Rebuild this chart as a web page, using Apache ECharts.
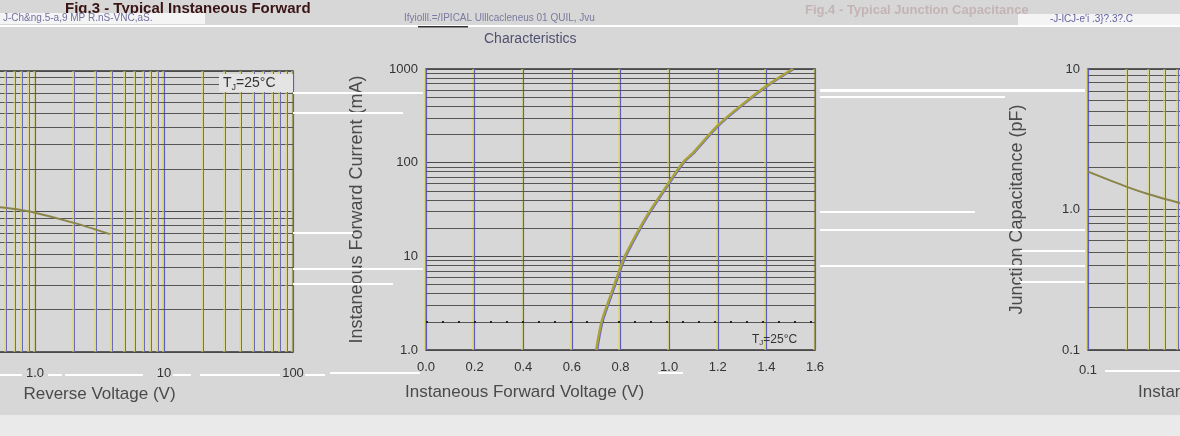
<!DOCTYPE html>
<html>
<head>
<meta charset="utf-8">
<script src="https://cdn.jsdelivr.net/npm/echarts@6/dist/echarts.min.js"></script>
<style>html,body{margin:0;padding:0;background:#d7d7d7}#c{width:1180px;height:436px}</style>
</head>
<body>
<div id="c"></div>
<script>
// ---- data ----
const revV = [0.5, 0.7, 1.0, 2.0, 3.8];
const revI = [0.108, 0.104, 0.098, 0.083, 0.069];
const fwdV = [0.70, 0.722, 0.76, 0.80, 0.817, 0.90, 1.00, 1.056, 1.10, 1.20, 1.30, 1.40, 1.508];
const fwdI = [1.0, 2.0, 3.9, 7.7, 10, 25, 62, 100, 129, 250, 417, 660, 1000];
const capV = [0.1, 0.2, 0.3, 0.5, 0.6];
const capC = [1.86, 1.45, 1.28, 1.12, 1.07];
const fwdXTicks = ['0.0','0.2','0.4','0.6','0.8','1.0','1.2','1.4','1.6'];
const logLabels = {0.1:'0.1', 1:'1.0', 10:'10', 100:'100', 1000:'1000', 0.01:'0.01'};

function minors(lo, hi){ const out=[]; for(let d=lo; d<hi; d*=10){ for(let m=2;m<=9;m++) out.push(+(m*d).toPrecision(3)); } return out; }
const pair = (xs, ys) => xs.map((x,i)=>[x, ys[i]]);

const vColor = '#5c5cc8';
const vShadow = '#e2dc48';
const hColor = '#4a4a4a';
const curveColor = '#aaa236';
const labelStyle = {color:'#333', fontSize:13, fontFamily:'Liberation Sans, Arial'};
const nameStyle = {color:'#4a4a4a', fontSize:18, fontFamily:'Liberation Sans, Arial'};

function vSplit(){ return {show:true, lineStyle:{color:vColor, width:1.2, shadowColor:vShadow, shadowOffsetX:-1.5, shadowBlur:0}}; }
function hSplit(){ return {show:true, lineStyle:{color:hColor, width:1.2}}; }
function minorLines(axisIdx, key, vals, color){
  return {type:'line', xAxisIndex:axisIdx, yAxisIndex:axisIdx, data:[], z:1, silent:true,
    markLine:{silent:true, symbol:['none','none'], animation:false, label:{show:false},
      lineStyle:key==='xAxis'
        ? {type:'solid', color:color, width:1, shadowColor:vShadow, shadowOffsetX:-1.5, shadowBlur:0}
        : {type:'solid', color:color, width:1},
      emphasis:{disabled:true},
      data: vals.map(v=>({[key]: v}))}};
}
const gridBase = {show:true, borderColor:'#333', borderWidth:1.5, containLabel:false, outerBoundsMode:'none'};

const chart = echarts.init(document.getElementById('c'), null, {renderer:'canvas'});
const option = {
  backgroundColor:'#d7d7d7',
  animation:false,
  grid:[
    Object.assign({left:-94, top:71, width:387, height:281}, gridBase),
    Object.assign({left:426, top:69, width:389, height:281}, gridBase),
    Object.assign({left:1088, top:69, width:387, height:281}, gridBase)
  ],
  xAxis:[
    {gridIndex:0, type:'log', min:0.1, max:100, logBase:10,
     axisLine:{show:false}, axisTick:{show:false}, splitLine:vSplit(),
     axisLabel:Object.assign({margin:15, formatter:v=>logLabels[v]||''}, labelStyle),
     name:'Reverse Voltage (V)', nameLocation:'middle', nameGap:34, nameTextStyle:Object.assign({}, nameStyle, {fontSize:17})},
    {gridIndex:1, type:'value', min:0, max:1.6, interval:0.2,
     axisLine:{show:false}, axisTick:{show:false}, splitLine:vSplit(),
     axisLabel:Object.assign({margin:11, formatter:(v)=>fwdXTicks[Math.round(v/0.2)]}, labelStyle)},
    {gridIndex:2, type:'log', min:0.1, max:100, logBase:10,
     axisLine:{show:false}, axisTick:{show:false}, splitLine:vSplit(),
     axisLabel:Object.assign({margin:14, formatter:v=>logLabels[v]||''}, labelStyle)}
  ],
  yAxis:[
    {gridIndex:0, type:'log', min:0.01, max:1, logBase:10,
     axisLine:{show:false}, axisTick:{show:false}, splitLine:hSplit(),
     axisLabel:Object.assign({formatter:v=>logLabels[v]||''}, labelStyle)},
    {gridIndex:1, type:'log', min:1, max:1000, logBase:10,
     axisLine:{show:false}, axisTick:{show:false}, splitLine:hSplit(),
     axisLabel:Object.assign({margin:8, formatter:v=>logLabels[v]||''}, labelStyle),
     name:'Instaneous Forward Current (mA)', nameLocation:'middle', nameGap:60, nameTextStyle:nameStyle},
    {gridIndex:2, type:'log', min:0.1, max:10, logBase:10,
     axisLine:{show:false}, axisTick:{show:false}, splitLine:hSplit(),
     axisLabel:Object.assign({margin:8, formatter:v=>logLabels[v]||''}, labelStyle),
     name:'Junction Capacitance (pF)', nameLocation:'middle', nameGap:62, nameTextStyle:nameStyle}
  ],
  series:[
    minorLines(0,'yAxis', minors(0.01,1), '#555'),
    minorLines(0,'xAxis', minors(0.1,100), '#6a6ab8'),
    minorLines(1,'yAxis', minors(1,1000), '#555'),
    minorLines(2,'yAxis', minors(0.1,10), '#555'),
    minorLines(2,'xAxis', minors(0.1,100), '#6a6ab8'),
    {type:'line', xAxisIndex:1, yAxisIndex:1, data:[], z:1, silent:true,
     markLine:{silent:true, symbol:['none','none'], label:{show:false}, lineStyle:{type:[2,14], color:'#222', width:2}, data:[{yAxis:2}]}},
    {type:'line', xAxisIndex:0, yAxisIndex:0, data:pair(revV, revI), smooth:0.3, showSymbol:false, z:5,
     lineStyle:{color:'#8a8448', width:2}},
    {type:'line', xAxisIndex:1, yAxisIndex:1, data:pair(fwdV, fwdI), smooth:0.3, showSymbol:false, z:5,
     lineStyle:{color:curveColor, width:2.4, shadowColor:'#6a6ad0', shadowOffsetX:1, shadowBlur:0}},
    {type:'line', xAxisIndex:2, yAxisIndex:2, data:pair(capV, capC), smooth:0.3, showSymbol:false, z:5,
     lineStyle:{color:'#8a8448', width:2}}
  ],
  graphic:[
    {type:'rect', shape:{x:0, y:415, width:1180, height:21}, style:{fill:'#eaeaea'}, z:0},
    {type:'rect', shape:{x:0, y:25, width:1180, height:2}, style:{fill:'#ffffff'}, z:100},
    {type:'text', x:65, y:1, style:{text:'Fig.3 - Typical Instaneous Forward', fontSize:15, fontWeight:'bold', fill:'#3a1414', fontFamily:'Liberation Sans, Arial'}, z:100},
    {type:'rect', shape:{x:0, y:13, width:205, height:11}, style:{fill:'#f4f4f4'}, z:100},
    {type:'text', x:3, y:13, style:{text:'J-Ch&ng.5-a,9 MP R.nS-VNC,aS.', fontSize:10, fill:'#7070a0', fontFamily:'Liberation Sans, Arial'}, z:101},
    {type:'text', x:404, y:13, style:{text:'Ifyiolll.=/IPICAL Ulllcacleneus 01 QUIL, Jvu', fontSize:10, fill:'#7a7aa0', fontFamily:'Liberation Sans, Arial'}, z:101},
    {type:'rect', shape:{x:418, y:26, width:50, height:1.5}, style:{fill:'#333'}, z:101},
    {type:'text', x:484, y:32, style:{text:'Characteristics', fontSize:14, fill:'#505070', fontFamily:'Liberation Sans, Arial'}, z:100},
    {type:'text', x:805, y:4, style:{text:'Fig.4 - Typical Junction Capacitance', fontSize:13, fontWeight:'bold', fill:'#c4b4b4', fontFamily:'Liberation Sans, Arial'}, z:100},
    {type:'rect', shape:{x:1018, y:14, width:162, height:11}, style:{fill:'#f4f4f4'}, z:100},
    {type:'text', x:1050, y:14, style:{text:'-J-lCJ-e\'i .3}?.3?.C', fontSize:10, fill:'#6060a0', fontFamily:'Liberation Sans, Arial'}, z:101},
    {type:'rect', shape:{x:219, y:74, width:74, height:18}, style:{fill:'#e4e4e4'}, z:50},
    {type:'text', x:223, y:75, style:{text:'T{s|J}=25°C', fontSize:14, fill:'#333', fontFamily:'Liberation Sans, Arial', rich:{s:{fontSize:9, padding:[8,0,0,0], fill:'#333'}}}, z:51},
    {type:'text', x:752, y:333, style:{text:'T{s|J}=25°C', fontSize:12, fill:'#333', fontFamily:'Liberation Sans, Arial', rich:{s:{fontSize:8, padding:[6,0,0,0], fill:'#333'}}}, z:51},
    {type:'text', x:405, y:384, style:{text:'Instaneous Forward Voltage (V)', fontSize:17, fill:'#4a4a4a', fontFamily:'Liberation Sans, Arial'}, z:51},
    {type:'text', x:1138, y:384, style:{text:'Instantaneous', fontSize:17, fill:'#4a4a4a', fontFamily:'Liberation Sans, Arial'}, z:51},
    {type:'rect', shape:{x:293, y:92, width:130, height:2}, style:{fill:'#fff'}, z:60},
    {type:'rect', shape:{x:293, y:112, width:110, height:2}, style:{fill:'#fff'}, z:60},
    {type:'rect', shape:{x:293, y:232, width:60, height:2}, style:{fill:'#fff'}, z:60},
    {type:'rect', shape:{x:293, y:268, width:130, height:2}, style:{fill:'#fff'}, z:60},
    {type:'rect', shape:{x:293, y:283, width:100, height:2}, style:{fill:'#fff'}, z:60},
    {type:'rect', shape:{x:820, y:89, width:265, height:3}, style:{fill:'#fff'}, z:60},
    {type:'rect', shape:{x:820, y:96, width:185, height:2}, style:{fill:'#fff'}, z:60},
    {type:'rect', shape:{x:820, y:211, width:155, height:2}, style:{fill:'#fff'}, z:60},
    {type:'rect', shape:{x:820, y:229, width:265, height:2}, style:{fill:'#fff'}, z:60},
    {type:'rect', shape:{x:1020, y:250, width:65, height:2}, style:{fill:'#fff'}, z:60},
    {type:'rect', shape:{x:820, y:265, width:265, height:2}, style:{fill:'#fff'}, z:60},
    {type:'rect', shape:{x:1020, y:281, width:65, height:2}, style:{fill:'#fff'}, z:60},
    {type:'rect', shape:{x:0, y:374, width:22, height:2}, style:{fill:'#fff'}, z:60},
    {type:'rect', shape:{x:48, y:374, width:14, height:2}, style:{fill:'#fff'}, z:60},
    {type:'rect', shape:{x:65, y:374, width:78, height:2}, style:{fill:'#fff'}, z:60},
    {type:'rect', shape:{x:173, y:374, width:18, height:2}, style:{fill:'#fff'}, z:60},
    {type:'rect', shape:{x:200, y:374, width:80, height:2}, style:{fill:'#fff'}, z:60},
    {type:'rect', shape:{x:305, y:374, width:20, height:2}, style:{fill:'#fff'}, z:60},
    {type:'rect', shape:{x:330, y:372, width:90, height:2}, style:{fill:'#fff'}, z:60},
    {type:'rect', shape:{x:658, y:372, width:25, height:2}, style:{fill:'#fff'}, z:60},
    {type:'rect', shape:{x:1105, y:370, width:75, height:2}, style:{fill:'#fff'}, z:60}
  ]
};
chart.setOption(option);
</script>
</body>
</html>
